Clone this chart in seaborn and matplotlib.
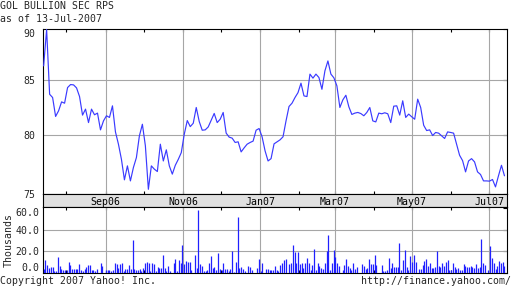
import numpy as np
import pandas as pd
import matplotlib
matplotlib.use("Agg")
import matplotlib.pyplot as plt
import matplotlib.dates as mdates
from matplotlib.ticker import FixedLocator, NullLocator, FuncFormatter
import seaborn as sns

# ---------------- data ----------------
start_date = "2006-07-14"
end_date = "2007-07-13"

prices = [
    86.37, 89.90, 83.71, 83.41, 81.69, 82.20, 83.01, 82.89, 84.33, 84.61,
    84.58, 84.30, 83.50, 81.81, 82.35, 81.14, 82.35, 81.84, 81.99, 80.49,
    81.29, 81.75, 81.60, 82.65, 80.31, 79.23, 77.92, 76.18, 77.36, 76.09,
    77.22, 78.07, 79.96, 80.99, 79.09, 75.39, 77.36, 77.08, 76.88, 79.23,
    77.78, 78.74, 77.36, 76.66, 77.41, 77.92, 78.50, 80.11, 81.32, 80.78,
    81.08, 82.50,
    81.23, 80.46, 80.49, 80.75, 81.35, 81.96, 81.14, 81.44, 82.05, 80.20,
    79.85, 79.76, 79.38, 79.44, 78.56, 78.91, 79.23, 79.38, 79.50, 80.46,
    80.61, 79.88, 78.65, 77.78, 77.98, 79.26, 79.44, 79.61, 79.88, 81.29,
    82.59, 82.89, 83.41, 83.86, 84.74, 83.56, 83.50, 85.59, 85.21, 85.59,
    85.27, 84.17, 85.90, 86.84, 85.59, 85.24, 84.49, 82.50, 83.20, 83.62,
    82.56,
    81.87, 81.99, 82.05, 81.95, 81.75, 82.05, 82.50, 81.29, 81.20, 81.99,
    81.93, 82.02, 81.93, 81.14, 82.62, 82.65, 81.81, 83.11, 81.60, 81.90,
    81.66, 81.44, 83.26, 82.50, 80.90, 80.43, 80.49, 79.99, 80.26, 80.20,
    79.96, 79.73, 80.31, 80.26, 80.20, 79.23, 78.27, 77.81, 76.85, 77.78,
    77.98, 77.70, 76.85, 76.63, 76.09, 76.09, 76.07, 76.21, 75.59, 76.52,
    77.41, 76.52,
]

volumes = [
    3.0, 12.1, 6.7, 3.9, 4.8, 4.8, 1.5, 1.5, 14.2, 5.8,
    3.6, 2.1, 2.1, 2.1, 10.3, 6.7, 3.0, 3.0, 3.0, 3.0,
    7.6, 2.1, 1.5, 3.0, 5.2, 6.7, 6.7, 2.1, 2.1, 1.5,
    3.0, 0.0, 8.5, 5.8, 0.0, 2.1, 2.1, 2.1, 1.5, 2.1,
    8.5, 7.6, 4.5, 7.6, 8.5, 1.5, 3.6, 3.6, 6.7, 3.0,
    30.3, 3.0, 2.1, 2.1, 3.0, 1.5, 3.9, 9.4, 10.3, 9.4,
    1.5, 9.4, 7.6, 1.5, 4.8, 3.9, 3.9, 16.1, 3.9, 1.5,
    5.8, 1.5, 0.0, 9.4, 13.0, 1.5, 12.1, 8.5, 25.8, 7.6,
    11.2, 10.3, 10.3, 2.1, 0.0, 16.1,
    3.9, 58.5, 7.6, 5.8, 1.5, 1.5, 2.1, 9.4, 15.8, 3.9,
    4.8, 2.1, 18.5, 3.0, 2.1, 8.5, 3.0, 3.0, 1.5, 3.0,
    20.3, 0.6, 10.3, 52.1, 3.9, 4.8, 3.0, 1.5, 0.0, 5.8,
    4.8, 2.1, 0.0, 0.0, 3.9, 13.0, 1.5, 8.5, 0.0, 3.0,
    3.0, 2.1, 2.1, 2.1, 5.8, 2.1, 1.5, 6.7, 8.5, 12.1,
    13.0, 0.0, 7.6, 8.5, 25.8, 19.7, 9.4, 19.7, 7.6, 9.4,
    3.9, 8.5, 13.9, 8.5, 2.1, 6.7, 22.1, 2.1, 8.5, 5.8,
    3.9, 3.0, 9.4, 20.3, 34.8, 2.1, 8.5, 21.2, 14.8, 9.4,
    5.8, 0.0, 2.1, 6.7, 13.0, 5.8, 3.9,
    2.1, 9.4, 3.0, 4.8, 0.0, 0.0, 7.6, 5.8, 3.0, 3.9,
    13.0, 7.6, 7.6, 16.7, 6.7, 0.0, 0.0, 6.7, 1.5, 1.5,
    2.1, 13.9, 3.9, 9.4, 4.8, 4.8, 4.8, 27.6, 2.1, 12.1,
    21.2, 4.8, 2.1, 15.8, 10.3, 16.7, 10.3, 0.0, 3.0, 3.0,
    6.7, 11.2, 13.0, 5.8, 9.4, 3.9, 3.9, 4.8, 20.3, 5.8,
    4.8, 9.4, 5.8, 10.3, 12.1, 2.1, 2.1, 9.4, 4.8, 3.0,
    3.9, 2.1, 2.1, 7.6, 5.8, 4.8, 4.8, 5.8, 4.8, 3.9,
    7.6, 3.9, 4.8, 31.2, 9.4, 6.7, 0.0, 2.1, 24.8, 13.9,
    8.5, 3.0, 5.8, 11.2, 8.5, 10.3, 5.8,
]

month_label_dates = ["2006-09-01", "2006-11-01", "2007-01-01",
                     "2007-03-01", "2007-05-01", "2007-07-01"]
month_labels = ["Sep06", "Nov06", "Jan07", "Mar07", "May07", "Jul07"]
price_ticks = [75, 80, 85, 90]
price_grid = [80, 85]
volume_ticks = [0, 20, 40, 60]
volume_grid = [20, 40]

title = "GOL BULLION SEC RPS"
subtitle = "as of 13-Jul-2007"
footer_left = "Copyright 2007 Yahoo! Inc."
footer_right = "http://finance.yahoo.com/"

# ---------------- style ----------------
sns.set_style("white")
plt.rcParams['font.family'] = ['DejaVu Sans Mono']
FS = 7.1
LINE_C = "#3a3aff"
BAR_C = "#2020ff"
GRID_C = "#a6a6a6"
BAND_C = "#e0e0e0"
SPINE_W = 0.8

W, H = 512, 288
fig = plt.figure(figsize=(W / 100, H / 100), dpi=100)


def rect(x0, y0, x1, y1):
    return [x0 / W, 1 - y1 / H, (x1 - x0) / W, (y1 - y0) / H]


ax = fig.add_axes(rect(43, 28.5, 507, 194))
band = fig.add_axes(rect(43, 194, 507, 207))
axv = fig.add_axes(rect(43, 207, 507, 273))

xmin = mdates.date2num(pd.Timestamp("2006-07-13 12:00"))
xmax = mdates.date2num(pd.Timestamp("2007-07-15 00:00"))

# ---------------- price panel ----------------
price_df = pd.DataFrame({
    "date": pd.date_range(start_date, end_date, periods=len(prices)),
    "price": prices,
})
sns.lineplot(data=price_df, x="date", y="price", ax=ax, color=LINE_C,
             linewidth=0.85, zorder=3)
ax.set_yscale("log")
ax.set_ylim(75, 90)
ax.yaxis.set_major_locator(FixedLocator(price_ticks))
ax.yaxis.set_minor_locator(NullLocator())
ax.yaxis.set_major_formatter(FuncFormatter(lambda v, p: f"{v:.0f}"))
for g in price_grid:
    ax.axhline(g, color=GRID_C, lw=0.8, zorder=1)

# ---------------- volume panel ----------------
vol_df = pd.DataFrame({
    "date": pd.date_range(start_date, end_date, periods=len(volumes)),
    "volume": volumes,
})
axv.vlines(mdates.date2num(vol_df["date"]), 0, vol_df["volume"],
           color=BAR_C, lw=0.9, zorder=3)
axv.set_ylim(-0.4, 61.4)
axv.yaxis.set_major_locator(FixedLocator(volume_ticks))
axv.yaxis.set_major_formatter(FuncFormatter(lambda v, p: f"{v:.1f}"))
for g in volume_grid:
    axv.axhline(g, color=GRID_C, lw=0.8, zorder=1)

# ---------------- common x styling ----------------
for a in (ax, band, axv):
    a.set_xlim(xmin, xmax)
    a.set_xlabel("")
    a.set_ylabel("")
    for s in a.spines.values():
        s.set_visible(True)
        s.set_color("black")
        s.set_linewidth(SPINE_W)

for a in (ax, axv):
    a.xaxis.set_major_locator(mdates.MonthLocator())
    a.tick_params(axis="x", which="major", direction="in", top=True,
                  bottom=True, length=2.3, width=SPINE_W, color="black",
                  labelbottom=False, labeltop=False)
    for d in month_label_dates:
        a.axvline(mdates.date2num(pd.Timestamp(d)), color=GRID_C, lw=0.8,
                  zorder=1)
    a.set_facecolor("white")

ax.tick_params(axis="y", which="major", left=False, right=True,
               direction="in", length=2.9, width=SPINE_W, color="black",
               labelleft=True, labelsize=FS, pad=5.8)
axv.tick_params(axis="y", which="major", left=False, right=True,
                direction="in", length=2.9, width=SPINE_W, color="black",
                labelleft=True, labelsize=FS, pad=2.7)

# clamp outer labels inside the panels
ylabels = ax.get_yticklabels()
ylabels[-1].set_verticalalignment("top")
vlabels = axv.get_yticklabels()
vlabels[-1].set_verticalalignment("top")
vlabels[0].set_verticalalignment("bottom")

# ---------------- month band ----------------
band.set_facecolor(BAND_C)
band.set_ylim(0, 1)
band.set_xticks([])
band.set_yticks([])
for d, lab in zip(month_label_dates, month_labels):
    band.text(mdates.date2num(pd.Timestamp(d)), 0.42, lab, ha="center",
              va="center", fontsize=FS, color="black")

# ---------------- texts ----------------
fig.text(0.5 / W, 1 - 8.9 / H, title, ha="left", va="baseline", fontsize=FS)
fig.text(0.5 / W, 1 - 22.3 / H, subtitle, ha="left", va="baseline",
         fontsize=FS)
fig.text(8.5 / W, 1 - 240 / H, "Thousands", rotation=90, ha="center",
         va="center", fontsize=FS)
fig.text(0.5 / W, 1 - 284 / H, footer_left, ha="left", va="baseline",
         fontsize=FS)
fig.text(510.5 / W, 1 - 284 / H, footer_right, ha="right", va="baseline",
         fontsize=FS)

fig.savefig("out.png", dpi=100)
